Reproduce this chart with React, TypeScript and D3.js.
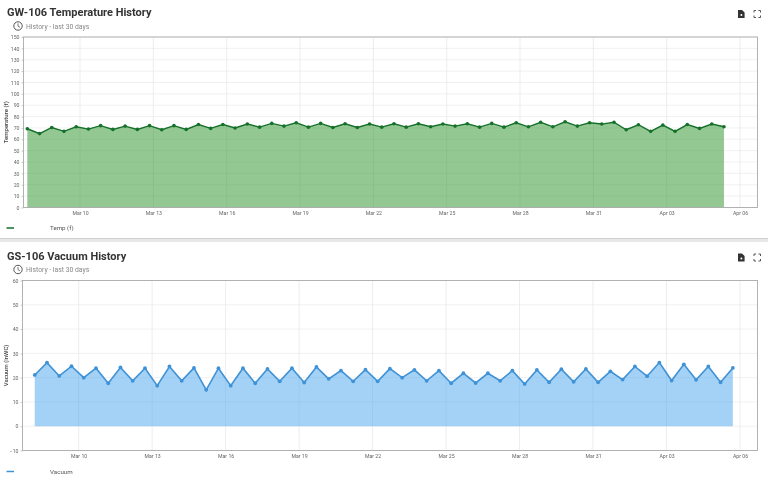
import * as d3 from 'd3';
import React, { useRef, useEffect } from 'react';

const tempValues = [
  69.3, 65, 70.4, 67, 71, 69, 72, 68.7, 71.6, 68.7, 72, 68.4, 72, 68.7, 73, 69.6, 73, 70, 73.4,
  70.7, 74, 71.6, 74.5, 70.7, 74, 70.4, 73.7, 70.4, 73.4, 70.7, 73.7, 70.7, 73.7, 71, 73.4, 71.6, 73.7, 70.7, 74, 70.7,
  74.5, 71, 75, 71, 75.4, 71.6, 74.5, 73.4, 75, 68.4, 72.8, 67, 72.5, 67, 73, 69.6, 73.4, 71,
];
const vacuumValues = [
  21.1, 26.2, 20.7, 24.7, 20, 23.9, 17.7, 24.2, 18.7, 23.9, 16.7, 24.6, 18.7, 24, 15, 23.9, 16.7, 23.9, 17.7,
  23.6, 18.5, 23.9, 18, 24.4, 19.5, 22.9, 18.5, 23.3, 18.5, 23.7, 20, 23.2, 18.7, 22.9, 17.7, 21.8, 17.8, 21.8, 18.7,
  22.9, 17.4, 23.2, 18.1, 23.5, 18.3, 23.6, 18.1, 22.6, 19.2, 24.6, 20.6, 26.2, 18.8, 25.5, 19.1, 24.6, 18.1, 24,
];
const tempTicks = [0, 10, 20, 30, 40, 50, 60, 70, 80, 90, 100, 110, 120, 130, 140, 150];
const vacuumTicks = [-10, 0, 10, 20, 30, 40, 50, 60];
const dateTicks = [
  [2, 10], [2, 13], [2, 16], [2, 19], [2, 22], [2, 25], [2, 28], [2, 31], [3, 3], [3, 6],
].map(([m, d]) => new Date(Date.UTC(2019, m, d)));

const FONT = 'Roboto, sans-serif';

type Panel = {
  title: string;
  top: number;
  label: string;
  legend: string;
  values: number[];
  yTicks: number[];
  color: string;
  fill: string;
  pointR: number;
  lineW: number;
  left: number;
  plotTop: number;
  plotBottom: number;
  legendY: number;
  firstPoint: Date;
  domainStart: Date;
};

const panels: Panel[] = [
  {
    title: 'GW-106 Temperature History',
    top: 0,
    label: 'Temperature (f)',
    legend: 'Temp (f)',
    values: tempValues,
    yTicks: tempTicks,
    color: '#15702a',
    fill: '#279227',
    pointR: 1.8,
    lineW: 1.4,
    left: 23.5,
    plotTop: 37,
    plotBottom: 207.5,
    legendY: 228,
    firstPoint: new Date(Date.UTC(2019, 2, 7, 20, 15)),
    domainStart: new Date(Date.UTC(2019, 2, 7, 16, 30)),
  },
  {
    title: 'GS-106 Vacuum History',
    top: 243.5,
    label: 'Vacuum (inWC)',
    legend: 'Vacuum',
    values: vacuumValues,
    yTicks: vacuumTicks,
    color: '#3f92d6',
    fill: '#47a5ed',
    pointR: 1.9,
    lineW: 1.6,
    left: 22.5,
    plotTop: 280.5,
    plotBottom: 450.5,
    legendY: 471.5,
    firstPoint: new Date(Date.UTC(2019, 2, 8, 5, 0)),
    domainStart: new Date(Date.UTC(2019, 2, 7, 17, 0)),
  },
];
const domainEnd = new Date(Date.UTC(2019, 3, 6, 17, 10));

function drawPanel(svg: d3.Selection<SVGSVGElement, unknown, null, undefined>, p: Panel) {
  const right = 757.5;
  const x = d3.scaleUtc().domain([p.domainStart, domainEnd]).range([p.left, right]);
  const y = d3
    .scaleLinear()
    .domain([p.yTicks[0], p.yTicks[p.yTicks.length - 1]])
    .range([p.plotBottom, p.plotTop]);
  const zero = y(0);
  const data = p.values.map((v, i) => ({ t: d3.utcHour.offset(p.firstPoint, i * 12), v }));

  const g = svg.append('g');

  // title block
  g.append('text')
    .attr('x', 7)
    .attr('y', p.top + 16.3)
    .attr('font-family', FONT)
    .attr('font-weight', 700)
    .attr('font-size', 11)
    .attr('fill', '#333')
    .text(p.title);
  g.append('circle')
    .attr('cx', 18)
    .attr('cy', p.top + 26)
    .attr('r', 4.2)
    .attr('fill', 'none')
    .attr('stroke', '#555')
    .attr('stroke-width', 1);
  g.append('path')
    .attr('d', `M18 ${p.top + 23.4}V${p.top + 26.2}L20 ${p.top + 27.4}`)
    .attr('fill', 'none')
    .attr('stroke', '#555')
    .attr('stroke-width', 0.8);
  g.append('text')
    .attr('x', 26)
    .attr('y', p.top + 28.6)
    .attr('font-family', FONT)
    .attr('font-size', 6.8)
    .attr('fill', '#888')
    .text('History - last 30 days');

  // toolbar icons
  const iconY = p.top + 14;
  g.append('path')
    .attr('d', `M738 ${iconY - 4}h4l2.6 2.6V${iconY + 4}h-6.6z`)
    .attr('fill', '#333');
  g.append('circle').attr('cx', 741.4).attr('cy', iconY + 1).attr('r', 1).attr('fill', '#fff');
  g.append('path')
    .attr(
      'd',
      `M754 ${iconY - 1.5}v-2h2M758.5 ${iconY - 3.5}h2v2M760.5 ${iconY + 1.5}v2h-2M756 ${iconY + 3.5}h-2v-2`
    )
    .attr('fill', 'none')
    .attr('stroke', '#444')
    .attr('stroke-width', 0.9);

  // grid
  g.append('g')
    .selectAll('line')
    .data(p.yTicks)
    .join('line')
    .attr('x1', p.left)
    .attr('x2', right)
    .attr('y1', (d) => y(d))
    .attr('y2', (d) => y(d))
    .attr('stroke', '#ededed')
    .attr('stroke-width', 0.8);
  g.append('g')
    .selectAll('line')
    .data(dateTicks)
    .join('line')
    .attr('x1', (d) => x(d))
    .attr('x2', (d) => x(d))
    .attr('y1', p.plotTop)
    .attr('y2', p.plotBottom)
    .attr('stroke', '#e8e8e8')
    .attr('stroke-width', 0.8);

  // series
  const area = d3
    .area<{ t: Date; v: number }>()
    .x((d) => x(d.t))
    .y0(zero)
    .y1((d) => y(d.v));
  const line = d3
    .line<{ t: Date; v: number }>()
    .x((d) => x(d.t))
    .y((d) => y(d.v));
  g.append('path').attr('d', area(data)).attr('fill', p.fill).attr('fill-opacity', 0.5);
  g.append('path').attr('d', line(data)).attr('fill', 'none').attr('stroke', p.color).attr('stroke-width', p.lineW);
  g.append('g')
    .selectAll('circle')
    .data(data)
    .join('circle')
    .attr('cx', (d) => x(d.t))
    .attr('cy', (d) => y(d.v))
    .attr('r', p.pointR)
    .attr('fill', p.color);

  // frame
  g.append('rect')
    .attr('x', p.left)
    .attr('y', p.plotTop)
    .attr('width', right - p.left)
    .attr('height', p.plotBottom - p.plotTop)
    .attr('fill', 'none')
    .attr('stroke', '#aaa')
    .attr('stroke-width', 0.9);

  // axes
  const xAxis = d3
    .axisBottom(x)
    .tickValues(dateTicks)
    .tickSize(0)
    .tickPadding(2)
    .tickFormat((d) => d3.utcFormat('%b %d')(d as Date));
  const yAxis = d3.axisLeft(y).tickValues(p.yTicks).tickSize(2).tickPadding(2);
  for (const [axis, tr] of [
    [xAxis, `translate(0,${p.plotBottom + 2})`],
    [yAxis, `translate(${p.left},0)`],
  ] as const) {
    const a = g.append('g').attr('transform', tr).call(axis as any);
    a.select('.domain').remove();
    a.selectAll('line').attr('stroke', '#aaa').attr('stroke-width', 0.6);
    a.selectAll('text').attr('font-family', FONT).attr('font-size', 5.2).attr('fill', '#666');
  }

  g.append('text')
    .attr('transform', `translate(8,${(p.plotTop + p.plotBottom) / 2}) rotate(-90)`)
    .attr('text-anchor', 'middle')
    .attr('font-family', FONT)
    .attr('font-size', 6)
    .attr('font-weight', 500)
    .attr('fill', '#444')
    .text(p.label);

  // legend
  g.append('line')
    .attr('x1', 6.5)
    .attr('x2', 14)
    .attr('y1', p.legendY)
    .attr('y2', p.legendY)
    .attr('stroke', p.color)
    .attr('stroke-width', 1.5);
  g.append('text')
    .attr('x', 50)
    .attr('y', p.legendY + 2)
    .attr('font-family', FONT)
    .attr('font-size', 6.2)
    .attr('fill', '#555')
    .text(p.legend);
}

export default function App() {
  const ref = useRef<SVGSVGElement>(null);

  useEffect(() => {
    const svg = d3.select(ref.current!);
    svg.selectAll('*').remove();
    svg.append('rect').attr('width', 768).attr('height', 480).attr('fill', '#fff');
    // gap between the two cards
    svg.append('rect').attr('x', 0).attr('y', 238).attr('width', 768).attr('height', 1.5).attr('fill', '#cfcfcf');
    svg.append('rect').attr('x', 0).attr('y', 239.5).attr('width', 768).attr('height', 2.5).attr('fill', '#e8e8e8');
    panels.forEach((p) => drawPanel(svg, p));
  }, []);

  // the source screenshot is slightly soft
  return (
    <svg
      ref={ref}
      width={768}
      height={480}
      style={{ position: 'absolute', left: 0, top: 0, filter: 'blur(0.3px)' }}
    />
  );
}
